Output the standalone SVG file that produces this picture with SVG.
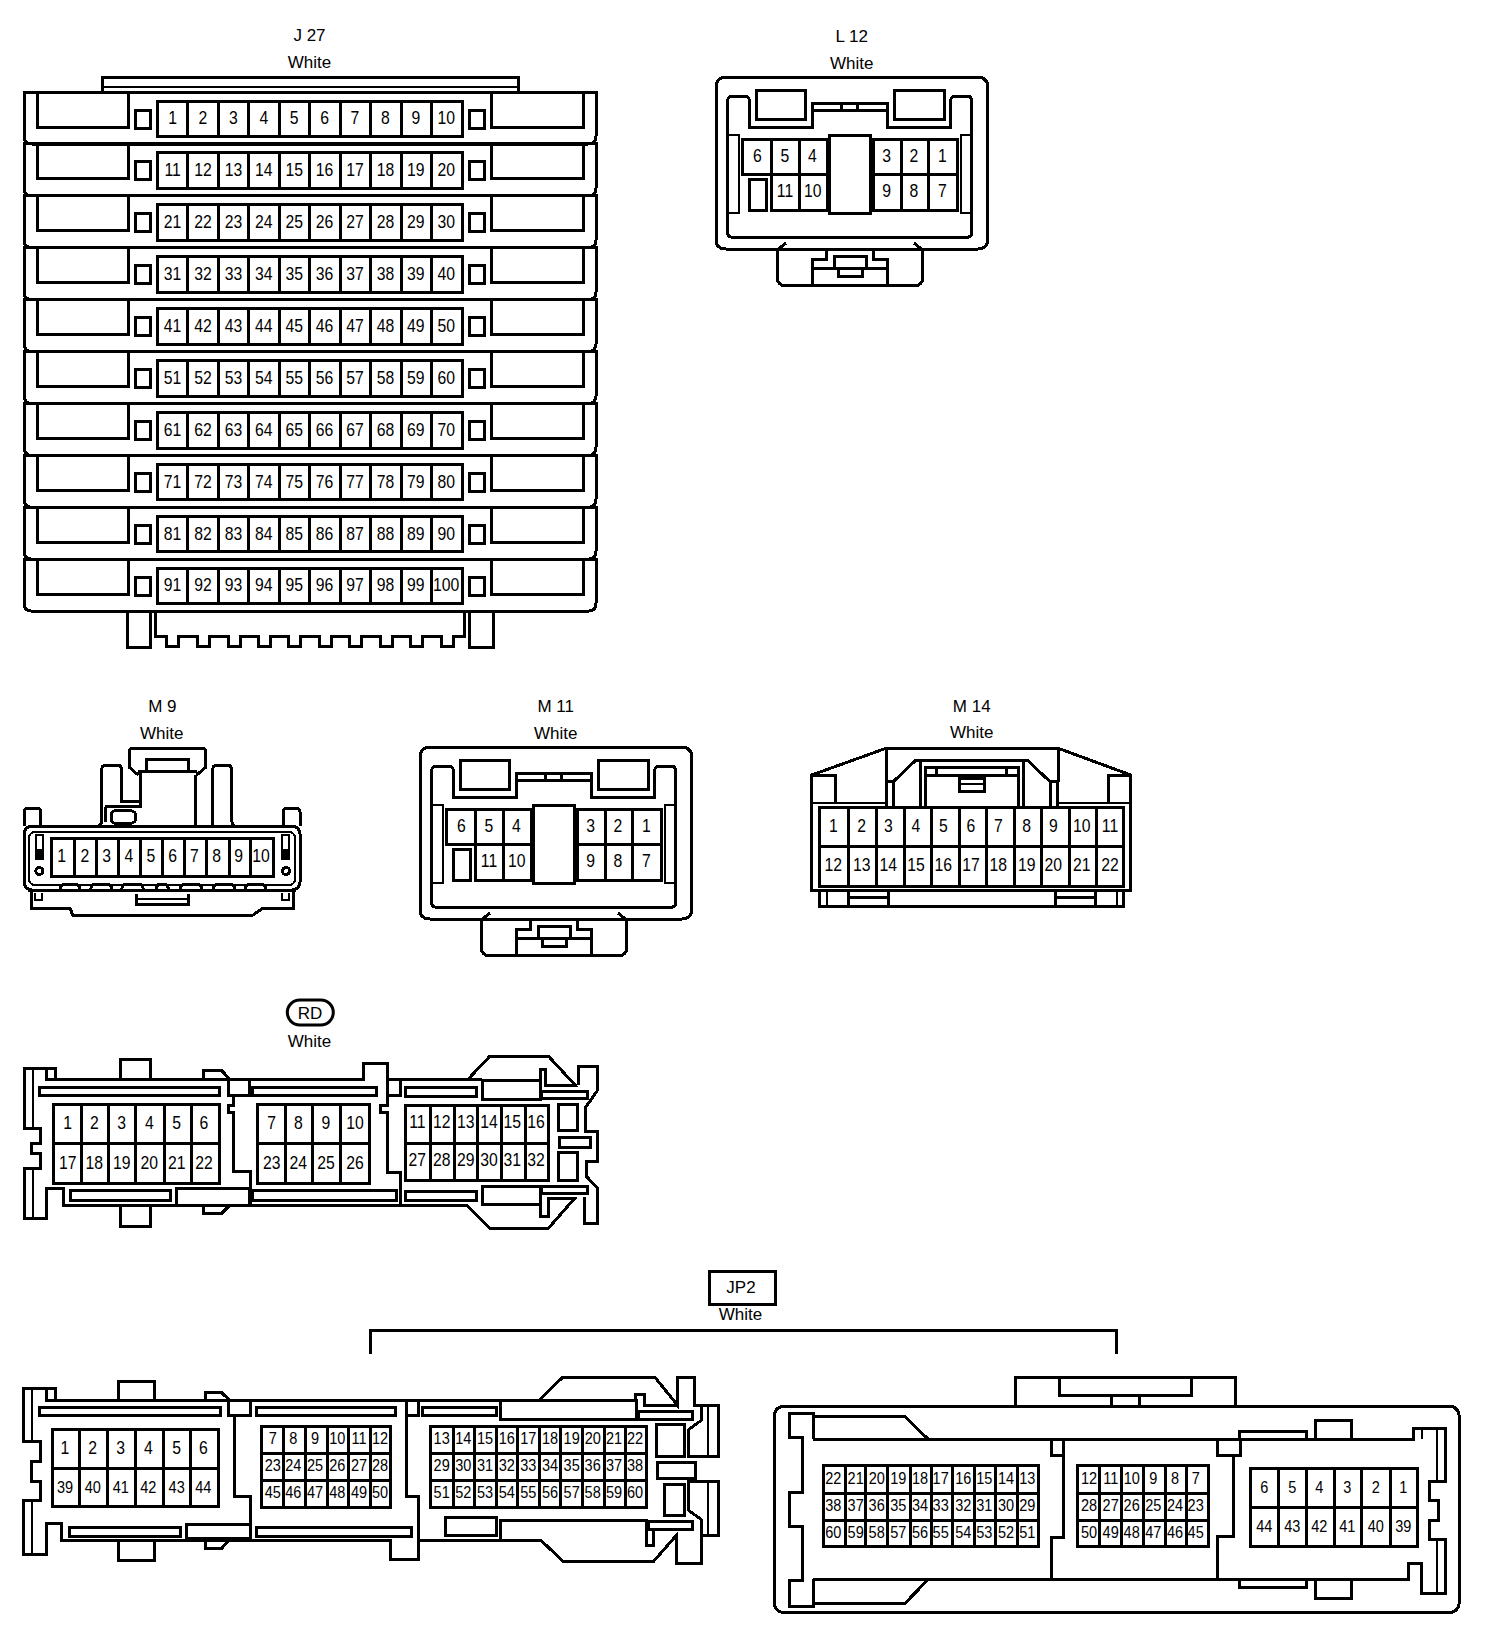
<svg xmlns="http://www.w3.org/2000/svg" xmlns:xlink="http://www.w3.org/1999/xlink" width="1504" height="1646" viewBox="0 0 1504 1646">
<style>
text{font-family:"Liberation Sans",Arial,sans-serif;font-size:17.5px;fill:#000;text-anchor:middle;transform-box:fill-box;transform-origin:center;transform:scaleX(.9)}
text.m{font-size:16.5px;transform:scaleX(.88)}
text.h{font-size:17px;transform:none}
.s,.s *{fill:none;stroke:#000;stroke-width:3;shape-rendering:crispEdges}
.t{fill:none;stroke:#000;stroke-width:2;shape-rendering:crispEdges}
.r{fill:none;stroke:#000;stroke-width:3}
</style>
<defs>
<g id="j27row" class="s">
<path d="M24 0H596V44Q596 52 588 52H32Q24 52 24 44Z"/>
<path d="M37.5 0V35H128V0M491 0V35H583V0"/>
<rect x="135.6" y="18" width="14.4" height="18"/>
<rect x="469" y="18" width="15" height="18"/>
<rect x="157.5" y="9" width="304.5" height="35.6"/>
<path d="M187.5 9v35.6M218 9v35.6M248.5 9v35.6M279 9v35.6M309.5 9v35.6M340 9v35.6M370.5 9v35.6M401 9v35.6M431.5 9v35.6"/>
</g>
<g id="l12shape" class="s">
<path class="r" d="M726 77.3H977.7Q987.7 77.3 987.7 87.3V239Q987.7 249 977.7 249H726Q716 249 716 239V87.3Q716 77.3 726 77.3Z"/>
<path class="r" d="M733 96H744Q749.3 96 749.3 101V127.3H812.7V103.3H887.3V127.3H950.7V101Q950.7 96 956 96H966.7Q971.7 96 971.7 101V232.3Q971.7 237.3 966.7 237.3H732.7Q727.7 237.3 727.7 232.3V101Q727.7 96 733 96Z"/>
<rect x="756" y="90" width="49" height="29.3"/>
<rect x="894.3" y="90" width="49.7" height="29.3"/>
<path d="M812.7 110H887.3M841.7 103.3V110M857.7 103.3V110"/>
<path class="t" d="M727.7 135H739.3V213.3H727.7M971.7 135H960.7V213.3H971.7"/>
<rect x="829.3" y="135" width="40.7" height="78.3"/>
<path d="M771.7 174H742.7V139.3H827.3V210.7H771.7V139.3M799 139.3V210.7M771.7 174H827.3"/>
<rect x="749.3" y="179.3" width="16.7" height="31.4"/>
<path d="M873.3 139.3H957.3V210.7H873.3ZM873.3 174H957.3M901 139.3V210.7M928.7 139.3V210.7"/>
<path class="r" d="M786 243L777.3 250V277Q777.3 285.7 786 285.7H914Q922.7 285.7 922.7 277V250L914 243"/>
<path class="t" d="M783 250H917"/>
<path d="M826 250V259.3H812.7V285M873.3 250V259.3H887.3V285M812.7 268.3H887.3"/>
<path d="M834 268.3V256H866V268.3M838.3 268.3V276H862.7V268.3"/>
</g>
</defs>

<g id="J27">
<text class="h" x="309.5" y="41">J 27</text>
<text class="h" x="309.5" y="68.3">White</text>
<path class="s" d="M102 92V77H518.6V92"/>
<path class="t" d="M102 87H518.6"/>
<path class="s" d="M127.7 612V647.5H150V612M469 612V647.5H493V612"/>
<path class="s" d="M155 612V636.7H166V646.7H178V636.7H197V646.7H209V636.7H228V646.7H240V636.7H258V646.7H270V636.7H288.5V646.7H300.4V636.7H319V646.7H331V636.7H349.4V646.7H361V636.7H380V646.7H392V636.7H410V646.7H422V636.7H441V646.7H453V636.7H464.4V612"/>
<use xlink:href="#j27row" href="#j27row" transform="translate(0,92)"/>
<use xlink:href="#j27row" href="#j27row" transform="translate(0,143.9)"/>
<use xlink:href="#j27row" href="#j27row" transform="translate(0,195.8)"/>
<use xlink:href="#j27row" href="#j27row" transform="translate(0,247.7)"/>
<use xlink:href="#j27row" href="#j27row" transform="translate(0,299.6)"/>
<use xlink:href="#j27row" href="#j27row" transform="translate(0,351.5)"/>
<use xlink:href="#j27row" href="#j27row" transform="translate(0,403.4)"/>
<use xlink:href="#j27row" href="#j27row" transform="translate(0,455.3)"/>
<use xlink:href="#j27row" href="#j27row" transform="translate(0,507.2)"/>
<use xlink:href="#j27row" href="#j27row" transform="translate(0,559.1)"/>
<g transform="translate(0,-.6)">
<text x="172.6" y="125">1</text><text x="203" y="125">2</text><text x="233.4" y="125">3</text><text x="263.8" y="125">4</text><text x="294.2" y="125">5</text><text x="324.6" y="125">6</text><text x="355" y="125">7</text><text x="385.4" y="125">8</text><text x="415.8" y="125">9</text><text x="446.2" y="125">10</text>
<text x="172.6" y="176.9">11</text><text x="203" y="176.9">12</text><text x="233.4" y="176.9">13</text><text x="263.8" y="176.9">14</text><text x="294.2" y="176.9">15</text><text x="324.6" y="176.9">16</text><text x="355" y="176.9">17</text><text x="385.4" y="176.9">18</text><text x="415.8" y="176.9">19</text><text x="446.2" y="176.9">20</text>
<text x="172.6" y="228.8">21</text><text x="203" y="228.8">22</text><text x="233.4" y="228.8">23</text><text x="263.8" y="228.8">24</text><text x="294.2" y="228.8">25</text><text x="324.6" y="228.8">26</text><text x="355" y="228.8">27</text><text x="385.4" y="228.8">28</text><text x="415.8" y="228.8">29</text><text x="446.2" y="228.8">30</text>
<text x="172.6" y="280.7">31</text><text x="203" y="280.7">32</text><text x="233.4" y="280.7">33</text><text x="263.8" y="280.7">34</text><text x="294.2" y="280.7">35</text><text x="324.6" y="280.7">36</text><text x="355" y="280.7">37</text><text x="385.4" y="280.7">38</text><text x="415.8" y="280.7">39</text><text x="446.2" y="280.7">40</text>
<text x="172.6" y="332.6">41</text><text x="203" y="332.6">42</text><text x="233.4" y="332.6">43</text><text x="263.8" y="332.6">44</text><text x="294.2" y="332.6">45</text><text x="324.6" y="332.6">46</text><text x="355" y="332.6">47</text><text x="385.4" y="332.6">48</text><text x="415.8" y="332.6">49</text><text x="446.2" y="332.6">50</text>
<text x="172.6" y="384.5">51</text><text x="203" y="384.5">52</text><text x="233.4" y="384.5">53</text><text x="263.8" y="384.5">54</text><text x="294.2" y="384.5">55</text><text x="324.6" y="384.5">56</text><text x="355" y="384.5">57</text><text x="385.4" y="384.5">58</text><text x="415.8" y="384.5">59</text><text x="446.2" y="384.5">60</text>
<text x="172.6" y="436.4">61</text><text x="203" y="436.4">62</text><text x="233.4" y="436.4">63</text><text x="263.8" y="436.4">64</text><text x="294.2" y="436.4">65</text><text x="324.6" y="436.4">66</text><text x="355" y="436.4">67</text><text x="385.4" y="436.4">68</text><text x="415.8" y="436.4">69</text><text x="446.2" y="436.4">70</text>
<text x="172.6" y="488.3">71</text><text x="203" y="488.3">72</text><text x="233.4" y="488.3">73</text><text x="263.8" y="488.3">74</text><text x="294.2" y="488.3">75</text><text x="324.6" y="488.3">76</text><text x="355" y="488.3">77</text><text x="385.4" y="488.3">78</text><text x="415.8" y="488.3">79</text><text x="446.2" y="488.3">80</text>
<text x="172.6" y="540.2">81</text><text x="203" y="540.2">82</text><text x="233.4" y="540.2">83</text><text x="263.8" y="540.2">84</text><text x="294.2" y="540.2">85</text><text x="324.6" y="540.2">86</text><text x="355" y="540.2">87</text><text x="385.4" y="540.2">88</text><text x="415.8" y="540.2">89</text><text x="446.2" y="540.2">90</text>
<text x="172.6" y="592.1">91</text><text x="203" y="592.1">92</text><text x="233.4" y="592.1">93</text><text x="263.8" y="592.1">94</text><text x="294.2" y="592.1">95</text><text x="324.6" y="592.1">96</text><text x="355" y="592.1">97</text><text x="385.4" y="592.1">98</text><text x="415.8" y="592.1">99</text><text x="446.2" y="592.1">100</text>
</g>
</g>

<g id="L12">
<text class="h" x="851.7" y="41.7">L 12</text>
<text class="h" x="851.7" y="69">White</text>
<use xlink:href="#l12shape" href="#l12shape"/>
<text x="757.3" y="162.3">6</text><text x="785" y="162.3">5</text><text x="812.3" y="162.3">4</text><text x="886.7" y="162.3">3</text><text x="914" y="162.3">2</text><text x="942.3" y="162.3">1</text>
<text x="785" y="197.3">11</text><text x="812.7" y="197.3">10</text><text x="886.7" y="197.3">9</text><text x="914" y="197.3">8</text><text x="942.3" y="197.3">7</text>
</g>

<g id="M11" transform="translate(-296,670)">
<text class="h" x="851.7" y="41.7">M 11</text>
<text class="h" x="851.7" y="69">White</text>
<use xlink:href="#l12shape" href="#l12shape"/>
<text x="757.3" y="162.3">6</text><text x="785" y="162.3">5</text><text x="812.3" y="162.3">4</text><text x="886.7" y="162.3">3</text><text x="914" y="162.3">2</text><text x="942.3" y="162.3">1</text>
<text x="785" y="197.3">11</text><text x="812.7" y="197.3">10</text><text x="886.7" y="197.3">9</text><text x="914" y="197.3">8</text><text x="942.3" y="197.3">7</text>
</g>

<g id="M9">
<text class="h" x="162.3" y="711.7">M 9</text>
<text class="h" x="161.7" y="738.8">White</text>
<g class="s">
<path class="r" d="M24 826V812Q24 808.3 28 808.3H36.5Q40.7 808.3 40.7 812V826.7H96Q101.7 826.7 101.7 820V770Q101.7 765 106 765H117Q121.7 765 121.7 770V801.7H139.3"/>
<path d="M105 806.7H140V773.3"/>
<path d="M105 806.7V822"/>
<path class="r" d="M138.3 775L129.3 767.3V752Q129.3 748.3 133 748.3H202Q205.7 748.3 205.7 752V767.3L196.7 775"/>
<path d="M146.7 771.7V759H188.3V771.7"/>
<path d="M138.3 771.7H196.7"/>
<path d="M195 775V826.7H212.7M212.7 826.7V770Q212.7 765 217 765H227Q231.7 765 231.7 770V820Q231.7 826.7 238 826.7H283.3V812Q283.3 808.3 287 808.3H296Q300 808.3 300 812V826"/>
<rect class="r" x="24" y="826" width="276" height="64" rx="8"/>
<rect class="t" x="29" y="832" width="266" height="53" rx="6"/>
<rect x="51" y="838.3" width="222.3" height="38.4"/>
<path d="M74 838.3v38.4M96 838.3v38.4M118.3 838.3v38.4M140 838.3v38.4M162.3 838.3v38.4M184.3 838.3v38.4M206.7 838.3v38.4M229.3 838.3v38.4M250.7 838.3v38.4"/>
<rect class="t" x="36" y="835" width="6.7" height="23"/>
<rect x="36" y="850" width="6.7" height="8" style="fill:#000"/>
<rect class="t" x="282" y="835" width="6.7" height="23"/>
<rect x="282" y="850" width="6.7" height="8" style="fill:#000"/>
<circle class="r" cx="39.3" cy="871" r="3.5"/>
<circle class="r" cx="286" cy="871" r="3.5"/>
<rect class="r" x="111" y="810.7" width="24.7" height="12.6" rx="5"/>
<path class="r" d="M28 890H60Q60 884 66 884H74Q80 884 80 890H90.7Q90.7 884 96 884H106Q111.7 884 111.7 890H121.7Q121.7 884 127 884H138Q143.3 884 143.3 890H156Q156 884 161 884H164Q168.3 884 168.3 890H180Q180 884 186 884H196Q201.7 884 201.7 890H213.3Q213.3 884 219 884H229Q235 884 235 890H245Q245 884 251 884H260Q265.7 884 265.7 890H296"/>
<path class="r" d="M31.7 892V908H70L72.7 915H253L263.3 908H293V892"/>
<path class="t" d="M35 893V900H41.7V893M282 893V900H289.3V893"/>
<path d="M136 894V904H188.3V894"/>
<path class="t" d="M136 899H188.3"/>
</g>
<text x="61.7" y="861.7">1</text><text x="85" y="861.7">2</text><text x="106.7" y="861.7">3</text><text x="129" y="861.7">4</text><text x="151" y="861.7">5</text><text x="172.7" y="861.7">6</text><text x="194.3" y="861.7">7</text><text x="216.7" y="861.7">8</text><text x="238.7" y="861.7">9</text><text x="261" y="861.7">10</text>
</g>

<g id="M14">
<text class="h" x="971.7" y="711.7">M 14</text>
<text class="h" x="971.7" y="738.3">White</text>
<g class="s">
<path d="M811.7 775L886 748.3H1058.3L1130.7 775V890H811.7Z"/>
<path d="M811.7 775H835V803.3M1130.7 775H1108.3V803.3"/>
<path class="t" d="M811.7 803.3H886.7M1057.3 803.3H1130.7"/>
<path d="M886 748.3V781.7M1058.3 748.3V781.7"/>
<path d="M893.3 781.7L916 760H1027.3L1050 781.7"/>
<path d="M886.7 781.7H893.3V806M1050 781.7H1057.3V806M886.7 781.7V806M1050.7 781.7V806"/>
<path d="M920 760V806M1023.3 760V806"/>
<path d="M925.7 806V767.3H1018.3V806M925.7 775H1018.3M936.7 767.3V775M1006.7 767.3V775"/>
<path d="M959 778.3H984V791.7H959Z"/>
<path class="t" d="M959 784.3H984"/>
<rect x="819.3" y="807.3" width="304" height="78.7"/>
<path d="M819.3 846.7H1123.3M848.3 807.3V886M876 807.3V886M904 807.3V886M931 807.3V886M959 807.3V886M986 807.3V886M1014 807.3V886M1041.7 807.3V886M1069 807.3V886M1096.7 807.3V886"/>
<path d="M819.3 890V906.7H1123.3V890"/>
<path class="t" d="M826.7 890V906M1117 890V906"/>
<path d="M848.3 890V906.7M888.3 890V906.7M1055 890V906.7M1095 890V906.7"/>
<path d="M848.3 897H888.3M1055 897H1095"/>
</g>
<text x="833.3" y="831.7">1</text><text x="861.7" y="831.7">2</text><text x="888.3" y="831.7">3</text><text x="916" y="831.7">4</text><text x="943.3" y="831.7">5</text><text x="971" y="831.7">6</text><text x="998.3" y="831.7">7</text><text x="1026.7" y="831.7">8</text><text x="1053.3" y="831.7">9</text><text x="1081.7" y="831.7">10</text><text x="1110" y="831.7">11</text>
<text x="833.3" y="870.7">12</text><text x="861.7" y="870.7">13</text><text x="888.3" y="870.7">14</text><text x="916" y="870.7">15</text><text x="943.3" y="870.7">16</text><text x="971" y="870.7">17</text><text x="998.3" y="870.7">18</text><text x="1026.7" y="870.7">19</text><text x="1053.3" y="870.7">20</text><text x="1081.7" y="870.7">21</text><text x="1110" y="870.7">22</text>
</g>

<g id="RD">
<rect class="r" x="287.3" y="1000" width="46" height="25" rx="12.5"/>
<text class="h" x="310" y="1018.8">RD</text>
<text class="h" x="309.5" y="1046.5">White</text>
<g class="s">
<path d="M55 1079.3V1068.3H24V1128.3H40.7V1143.3H31.7V1153.3H40.7V1168.3H24V1218.3H46.7V1188.3H63.3V1205H466.7L490 1228.3H548.3L575 1198H548.3V1216.7H540V1204"/>
<path class="t" d="M33.3 1068.3V1128.3M33.3 1168.3V1218.3"/>
<path d="M46.7 1068.3V1079.3H363.3V1063.3H387.3V1079.3H481.7M468 1079.3L490 1056H548.3L575 1085H545V1069.3H540V1080.7"/>
<path d="M120.7 1079.3V1059.3H150V1079.3M120.7 1205V1226H150V1205"/>
<path d="M203.3 1079.3V1070.7H221.7L230 1079.3M203.3 1205V1213.3H221.7L230 1205"/>
<rect x="39.3" y="1087.3" width="180" height="7.7"/>
<rect x="228.3" y="1079.3" width="21" height="15.7"/>
<path d="M233.3 1095V1105H228V1112H233.3V1171.7H250V1205"/>
<rect x="70" y="1190.7" width="100" height="9.3"/>
<rect x="176.7" y="1188.3" width="72.6" height="16.7"/>
<rect x="53" y="1104" width="166" height="79.3"/>
<path d="M53 1143.3H219M81 1104V1183.3M108.3 1104V1183.3M135.7 1104V1183.3M164 1104V1183.3M191.7 1104V1183.3"/>
<rect x="257" y="1104" width="112" height="79.3"/>
<path d="M257 1143.3H369M285 1104V1183.3M312.7 1104V1183.3M340 1104V1183.3"/>
<rect x="252.7" y="1087.3" width="123.3" height="7.7"/>
<rect x="252.7" y="1190.7" width="143.3" height="9.3"/>
<path d="M387.3 1079.3V1105H380V1112H387.3V1172.7H400V1205M400 1079.3V1095H387.3"/>
<rect x="482.7" y="1080.7" width="57.3" height="18.6"/>
<rect x="482.7" y="1186" width="57.3" height="18"/>
<rect x="405" y="1087" width="71.7" height="9"/>
<rect x="405" y="1191.7" width="71.7" height="8.3"/>
<rect x="405" y="1105" width="143.3" height="75.7"/>
<path d="M405 1143.3H548.3M430.7 1105V1180.7M454.3 1105V1180.7M477.7 1105V1180.7M501.7 1105V1180.7M525 1105V1180.7"/>
<rect x="541.7" y="1091" width="45.6" height="7"/>
<rect x="541.7" y="1186" width="45.6" height="7.3"/>
<path d="M578.3 1085V1066H597.7V1090L585 1108.3V1131.7H597.7V1161.7H586.7V1176.7L597.7 1188.3V1223.3H584V1196.7"/>
<rect x="558.3" y="1104" width="19.4" height="26.7"/>
<rect x="559.3" y="1137.3" width="30.7" height="10"/>
<rect x="558.3" y="1152.7" width="19.4" height="27.3"/>
</g>
<text x="67.7" y="1129">1</text><text x="94.3" y="1129">2</text><text x="121.7" y="1129">3</text><text x="149.3" y="1129">4</text><text x="176.7" y="1129">5</text><text x="204" y="1129">6</text>
<text x="67.7" y="1169.3">17</text><text x="94.3" y="1169.3">18</text><text x="121.7" y="1169.3">19</text><text x="149.3" y="1169.3">20</text><text x="176.7" y="1169.3">21</text><text x="204" y="1169.3">22</text>
<text x="271.7" y="1129">7</text><text x="298.3" y="1129">8</text><text x="326" y="1129">9</text><text x="355" y="1129">10</text>
<text x="271.7" y="1169.3">23</text><text x="298.3" y="1169.3">24</text><text x="326" y="1169.3">25</text><text x="355" y="1169.3">26</text>
<text x="417.3" y="1128.3">11</text><text x="441.7" y="1128.3">12</text><text x="465.7" y="1128.3">13</text><text x="489" y="1128.3">14</text><text x="512.3" y="1128.3">15</text><text x="536" y="1128.3">16</text>
<text x="417.3" y="1166">27</text><text x="441.7" y="1166">28</text><text x="465.7" y="1166">29</text><text x="489" y="1166">30</text><text x="512.3" y="1166">31</text><text x="536" y="1166">32</text>
</g>

<g id="JP2">
<rect class="s" x="709" y="1271" width="66" height="33"/>
<text class="h" x="741" y="1292.7">JP2</text>
<text class="h" x="740.5" y="1320">White</text>
</g>

<g id="connectors">
<path class="s" d="M370.6 1354V1330H1116.5V1354"/>
</g>

<g id="JP2-left">
<g class="s">
<path d="M55 1400V1388.3H23.3V1441.7H40.7V1461.7H31.7V1481.7H40.7V1500H23.3V1554H46.7V1523.3H61.7V1540H390V1559.3H418.3V1540H540.7L563.3 1561.7H653.3L676.7 1535V1563.3H701.7V1535H718.3V1481.7H688.3V1510L701.7 1520V1535"/>
<path class="t" d="M32.3 1388.3V1441.7M32.3 1500V1554M708.3 1405V1456.7M708.3 1481.7V1535"/>
<path d="M46.7 1388.3V1400H635V1394H644V1405H677.3M540 1399.3L562.7 1377.3H655L677.3 1405V1377.3H694V1405H718.3V1456.7H688.3V1430L701.7 1420V1405"/>
<path d="M118.3 1400V1381.7H154V1400M118.3 1540V1560H154V1540"/>
<path d="M205 1400V1392.7H221.7L229.3 1400M205 1540V1548.3H221.7L229.3 1540"/>
<rect x="39.3" y="1407.3" width="180.7" height="8.4"/>
<rect x="228.3" y="1400" width="21.7" height="15.7"/>
<path d="M234.3 1415.7V1496.7H250V1540"/>
<rect x="186.7" y="1524" width="63.3" height="14"/>
<rect x="69.3" y="1527.3" width="110.7" height="8.7"/>
<rect x="52" y="1429.3" width="166" height="77.4"/>
<path d="M52 1468.3H218M79.3 1429.3V1506.7M107.3 1429.3V1506.7M135 1429.3V1506.7M163.3 1429.3V1506.7M190.7 1429.3V1506.7"/>
<rect x="261" y="1426" width="129.7" height="81.7"/>
<path d="M261 1453.3H390.7M261 1480H390.7M283.3 1426V1507.7M305 1426V1507.7M327.3 1426V1507.7M348.3 1426V1507.7M370 1426V1507.7"/>
<rect x="256.7" y="1407.3" width="138.3" height="8.4"/>
<rect x="256.7" y="1527.3" width="155" height="8.7"/>
<path d="M406 1400V1496.7H418.3V1540M406 1415H418.3V1400"/>
<rect x="422.7" y="1407.3" width="74" height="8.4"/>
<rect x="500" y="1400.7" width="136" height="18.6"/>
<rect x="638.3" y="1411.7" width="54.4" height="7.3"/>
<rect x="648.3" y="1521.7" width="44.4" height="7.3"/>
<path d="M500 1540V1520.7H646.7V1545H653.3V1531"/>
<rect x="445" y="1517.3" width="51.7" height="18.4"/>
<rect x="656.7" y="1424" width="27.3" height="32.7"/>
<rect x="657.3" y="1462.7" width="37.7" height="15.6"/>
<rect x="664.3" y="1484.3" width="19.7" height="31.4"/>
<rect x="430.7" y="1426" width="216" height="81.7"/>
<path d="M430.7 1453.3H646.7M430.7 1480.7H646.7M453.3 1426V1507.7M474 1426V1507.7M496 1426V1507.7M517.3 1426V1507.7M539 1426V1507.7M560.7 1426V1507.7M582.3 1426V1507.7M604 1426V1507.7M625 1426V1507.7"/>
</g>
<text x="65" y="1454.3">1</text><text x="92.7" y="1454.3">2</text><text x="120.7" y="1454.3">3</text><text x="148.3" y="1454.3">4</text><text x="176.7" y="1454.3">5</text><text x="203.3" y="1454.3">6</text>
<text x="65" y="1492.7" class="m">39</text><text x="92.7" y="1492.7" class="m">40</text><text x="120.7" y="1492.7" class="m">41</text><text x="148.3" y="1492.7" class="m">42</text><text x="176.7" y="1492.7" class="m">43</text><text x="203.3" y="1492.7" class="m">44</text>
<g>
<text class="m" x="272.7" y="1444.3">7</text><text class="m" x="293.3" y="1444.3">8</text><text class="m" x="315" y="1444.3">9</text><text class="m" x="337.3" y="1444.3">10</text><text class="m" x="359" y="1444.3">11</text><text class="m" x="380" y="1444.3">12</text>
<text class="m" x="272.7" y="1471">23</text><text class="m" x="293.3" y="1471">24</text><text class="m" x="315" y="1471">25</text><text class="m" x="337.3" y="1471">26</text><text class="m" x="359" y="1471">27</text><text class="m" x="380" y="1471">28</text>
<text class="m" x="272.7" y="1497.7">45</text><text class="m" x="293.3" y="1497.7">46</text><text class="m" x="315" y="1497.7">47</text><text class="m" x="337.3" y="1497.7">48</text><text class="m" x="359" y="1497.7">49</text><text class="m" x="380" y="1497.7">50</text>
</g>
<g>
<text class="m" x="441.7" y="1444.3">13</text><text class="m" x="463.3" y="1444.3">14</text><text class="m" x="485" y="1444.3">15</text><text class="m" x="506.7" y="1444.3">16</text><text class="m" x="528.3" y="1444.3">17</text><text class="m" x="550" y="1444.3">18</text><text class="m" x="571.7" y="1444.3">19</text><text class="m" x="592.7" y="1444.3">20</text><text class="m" x="614" y="1444.3">21</text><text class="m" x="635" y="1444.3">22</text>
<text class="m" x="441.7" y="1471">29</text><text class="m" x="463.3" y="1471">30</text><text class="m" x="485" y="1471">31</text><text class="m" x="506.7" y="1471">32</text><text class="m" x="528.3" y="1471">33</text><text class="m" x="550" y="1471">34</text><text class="m" x="571.7" y="1471">35</text><text class="m" x="592.7" y="1471">36</text><text class="m" x="614" y="1471">37</text><text class="m" x="635" y="1471">38</text>
<text class="m" x="441.7" y="1497.7">51</text><text class="m" x="463.3" y="1497.7">52</text><text class="m" x="485" y="1497.7">53</text><text class="m" x="506.7" y="1497.7">54</text><text class="m" x="528.3" y="1497.7">55</text><text class="m" x="550" y="1497.7">56</text><text class="m" x="571.7" y="1497.7">57</text><text class="m" x="592.7" y="1497.7">58</text><text class="m" x="614" y="1497.7">59</text><text class="m" x="635" y="1497.7">60</text>
</g>
</g>

<g id="JP2-right">
<g class="s">
<path class="r" d="M1015.7 1406H786Q774 1406 774 1418V1600.7Q774 1612.7 786 1612.7H1447.3Q1459.3 1612.7 1459.3 1600.7V1418Q1459.3 1406 1447.3 1406H1235V1377.3H1015.7Z"/>
<path d="M1015.7 1406H1235"/>
<path d="M1059.3 1377.3V1395H1191.7V1377.3M1111.7 1395V1406M1139.3 1395V1406"/>
<path d="M813.3 1439.3V1413.3H789.3V1437.3H802.7V1492.7H789.3V1526H802.7V1580.7H789.3V1606H813.3V1579.3"/>
<path d="M813.3 1416.7H905L928.3 1439.3M813.3 1603.3H905L928.3 1579.3"/>
<path d="M813.3 1439.3H1413.3V1428.3H1445V1481.7H1429.3V1500.7H1438.3V1520H1429.3V1539.3H1445V1593.3H1421.7V1563.3H1408.3V1579.3H813.3"/>
<path class="t" d="M1437.3 1428.3V1481.7M1437.3 1539.3V1593.3M1421.7 1428.3V1439.3"/>
<path d="M1051.7 1439.3V1455H1063.3V1439.3M1063.3 1455V1537.3H1051.7V1579.3"/>
<path d="M1217.7 1439.3V1455H1240V1439.3M1233.3 1455V1536.7H1217.7V1579.3"/>
<path d="M1239 1439.3V1431H1306V1439.3M1239 1579.3V1587.3H1306V1579.3"/>
<path d="M1315 1439.3V1420H1351V1439.3M1315 1579.3V1598.3H1351V1579.3"/>
<rect x="823" y="1465" width="215" height="81.7"/>
<path d="M823 1493.3H1038M823 1520H1038M845 1465V1546.7M865.7 1465V1546.7M887.3 1465V1546.7M910 1465V1546.7M931 1465V1546.7M952.3 1465V1546.7M974 1465V1546.7M995.7 1465V1546.7M1017.3 1465V1546.7"/>
<rect x="1077" y="1465" width="131" height="81.7"/>
<path d="M1077 1493.3H1208M1077 1520H1208M1099.3 1465V1546.7M1121.7 1465V1546.7M1143.3 1465V1546.7M1165 1465V1546.7M1186 1465V1546.7"/>
<rect x="1250" y="1468.3" width="167" height="78.4"/>
<path d="M1250 1507.3H1417M1278.3 1468.3V1546.7M1306 1468.3V1546.7M1334 1468.3V1546.7M1361.7 1468.3V1546.7M1390 1468.3V1546.7"/>
</g>
<g>
<text class="m" x="833.3" y="1484">22</text><text class="m" x="855.7" y="1484">21</text><text class="m" x="876.7" y="1484">20</text><text class="m" x="898.3" y="1484">19</text><text class="m" x="920" y="1484">18</text><text class="m" x="940.7" y="1484">17</text><text class="m" x="963.3" y="1484">16</text><text class="m" x="984.3" y="1484">15</text><text class="m" x="1006" y="1484">14</text><text class="m" x="1027.3" y="1484">13</text>
<text class="m" x="833.3" y="1511">38</text><text class="m" x="855.7" y="1511">37</text><text class="m" x="876.7" y="1511">36</text><text class="m" x="898.3" y="1511">35</text><text class="m" x="920" y="1511">34</text><text class="m" x="940.7" y="1511">33</text><text class="m" x="963.3" y="1511">32</text><text class="m" x="984.3" y="1511">31</text><text class="m" x="1006" y="1511">30</text><text class="m" x="1027.3" y="1511">29</text>
<text class="m" x="833.3" y="1538.3">60</text><text class="m" x="855.7" y="1538.3">59</text><text class="m" x="876.7" y="1538.3">58</text><text class="m" x="898.3" y="1538.3">57</text><text class="m" x="920" y="1538.3">56</text><text class="m" x="940.7" y="1538.3">55</text><text class="m" x="963.3" y="1538.3">54</text><text class="m" x="984.3" y="1538.3">53</text><text class="m" x="1006" y="1538.3">52</text><text class="m" x="1027.3" y="1538.3">51</text>
</g>
<g>
<text class="m" x="1089" y="1484">12</text><text class="m" x="1110.7" y="1484">11</text><text class="m" x="1131.7" y="1484">10</text><text class="m" x="1153.3" y="1484">9</text><text class="m" x="1175" y="1484">8</text><text class="m" x="1195.7" y="1484">7</text>
<text class="m" x="1089" y="1511">28</text><text class="m" x="1110.7" y="1511">27</text><text class="m" x="1131.7" y="1511">26</text><text class="m" x="1153.3" y="1511">25</text><text class="m" x="1175" y="1511">24</text><text class="m" x="1195.7" y="1511">23</text>
<text class="m" x="1089" y="1538.3">50</text><text class="m" x="1110.7" y="1538.3">49</text><text class="m" x="1131.7" y="1538.3">48</text><text class="m" x="1153.3" y="1538.3">47</text><text class="m" x="1175" y="1538.3">46</text><text class="m" x="1195.7" y="1538.3">45</text>
</g>
<g>
<text class="m" x="1264.3" y="1493.3">6</text><text class="m" x="1292.3" y="1493.3">5</text><text class="m" x="1319.3" y="1493.3">4</text><text class="m" x="1347.3" y="1493.3">3</text><text class="m" x="1375.7" y="1493.3">2</text><text class="m" x="1403.3" y="1493.3">1</text>
<text class="m" x="1264.3" y="1531.7">44</text><text class="m" x="1292.3" y="1531.7">43</text><text class="m" x="1319.3" y="1531.7">42</text><text class="m" x="1347.3" y="1531.7">41</text><text class="m" x="1375.7" y="1531.7">40</text><text class="m" x="1403.3" y="1531.7">39</text>
</g>
</g>
</svg>
